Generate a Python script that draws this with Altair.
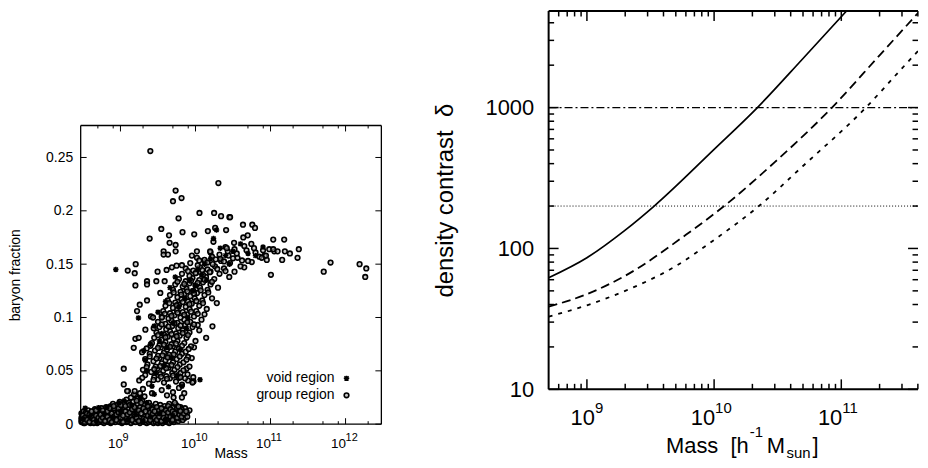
import altair as alt
import pandas as pd

FONT = "Liberation Sans"
NB = "\u00a0"

# ---------------- Left panel data: (log10 Mass, baryon fraction) ----------------
group_low = {
    8.48: [0.002, 0.006, 0.010, 0.004], 8.51: [0.001, 0.008, 0.012, 0.005],
    8.54: [0.003, 0.009, 0.006, 0.011], 8.57: [0.002, 0.007, 0.013, 0.004],
    8.60: [0.005, 0.010, 0.001, 0.008], 8.63: [0.003, 0.012, 0.007, 0.009],
    8.66: [0.002, 0.006, 0.011, 0.014], 8.69: [0.004, 0.009, 0.001, 0.012],
    8.72: [0.003, 0.007, 0.013, 0.010], 8.75: [0.005, 0.002, 0.011, 0.015],
    8.78: [0.004, 0.008, 0.012, 0.001], 8.81: [0.006, 0.003, 0.010, 0.016],
    8.84: [0.002, 0.009, 0.013, 0.007], 8.87: [0.005, 0.011, 0.001, 0.017],
    8.90: [0.003, 0.008, 0.014, 0.019], 8.93: [0.006, 0.002, 0.012, 0.016],
    8.96: [0.004, 0.010, 0.018, 0.007], 8.99: [0.002, 0.013, 0.008, 0.021],
    9.02: [0.005, 0.011, 0.016, 0.001], 9.05: [0.003, 0.009, 0.019, 0.014],
    9.08: [0.006, 0.012, 0.002, 0.023], 9.11: [0.004, 0.015, 0.009, 0.020],
    9.14: [0.001, 0.007, 0.017, 0.025], 9.17: [0.005, 0.012, 0.021, 0.003],
    9.20: [0.008, 0.014, 0.002, 0.027], 9.23: [0.004, 0.011, 0.019, 0.024],
    9.26: [0.006, 0.001, 0.016, 0.029], 9.29: [0.003, 0.013, 0.009, 0.022],
    9.32: [0.007, 0.018, 0.002, 0.026], 9.35: [0.005, 0.011, 0.015, 0.001],
    9.38: [0.002, 0.009, 0.020, 0.013], 9.41: [0.006, 0.003, 0.017, 0.012],
    9.44: [0.004, 0.010, 0.001, 0.016], 9.47: [0.007, 0.002, 0.013, 0.019],
    9.50: [0.003, 0.009, 0.015, 0.001], 9.53: [0.005, 0.011, 0.002, 0.018],
    9.56: [0.001, 0.008, 0.014, 0.004], 9.59: [0.006, 0.012, 0.003, 0.017],
    9.62: [0.002, 0.009, 0.015, 0.007], 9.65: [0.004, 0.011, 0.001, 0.019],
    9.68: [0.006, 0.013, 0.003, 0.010], 9.71: [0.002, 0.008, 0.016, 0.005],
    9.74: [0.004, 0.012, 0.009, 0.018], 9.77: [0.007, 0.003, 0.014, 0.011],
    9.80: [0.005, 0.010, 0.016], 9.83: [0.004, 0.012, 0.008],
    9.86: [0.009, 0.015, 0.006], 9.89: [0.011, 0.007], 9.92: [0.013],
}

group_low2 = {
    8.495: [0.003, 0.008], 8.525: [0.006, 0.001], 8.555: [0.010, 0.004], 8.585: [0.002, 0.009],
    8.615: [0.007, 0.012], 8.645: [0.004, 0.001], 8.675: [0.008, 0.013], 8.705: [0.002, 0.006],
    8.735: [0.009, 0.004], 8.765: [0.006, 0.013], 8.795: [0.003, 0.009], 8.825: [0.007, 0.012],
    8.855: [0.004, 0.015], 8.885: [0.002, 0.010], 8.915: [0.007, 0.015], 8.945: [0.004, 0.009],
    8.975: [0.011, 0.015], 9.005: [0.006, 0.018], 9.035: [0.008, 0.002], 9.065: [0.012, 0.017],
    9.095: [0.003, 0.009], 9.125: [0.011, 0.018], 9.155: [0.004, 0.014], 9.185: [0.009, 0.016],
    9.215: [0.006, 0.022], 9.245: [0.003, 0.013], 9.275: [0.010, 0.020], 9.305: [0.005, 0.015],
    9.335: [0.012, 0.004], 9.365: [0.008, 0.017], 9.395: [0.004, 0.011], 9.425: [0.009, 0.014],
    9.455: [0.006, 0.012], 9.485: [0.004, 0.016], 9.515: [0.007, 0.013], 9.545: [0.003, 0.015],
    9.575: [0.010, 0.006], 9.605: [0.004, 0.013], 9.635: [0.011, 0.017], 9.665: [0.007, 0.014],
    9.695: [0.004, 0.012], 9.725: [0.010, 0.020], 9.755: [0.006, 0.015], 9.785: [0.009, 0.013],
    9.815: [0.007, 0.014], 9.845: [0.010], 9.875: [0.012],
}

group_band = [
    (9.10, .031), (9.18, .028), (9.30, .033), (9.42, .029), (9.55, .032), (9.62, .027), (9.70, .030), (9.78, .034), (9.85, .029),
    (9.25, .041), (9.38, .038), (9.50, .042), (9.58, .039), (9.66, .043), (9.74, .040), (9.82, .037), (9.90, .041), (9.97, .044),
    (9.33, .046), (9.45, .044), (9.53, .047), (9.61, .045), (9.69, .048), (9.77, .046), (9.86, .043),
    (9.30, .051), (9.41, .049), (9.49, .052), (9.57, .050), (9.64, .053), (9.72, .051), (9.80, .048), (9.88, .052),
    (9.36, .056), (9.47, .054), (9.55, .057), (9.63, .055), (9.70, .058), (9.79, .056), (9.92, .054),
    (9.33, .061), (9.44, .059), (9.52, .062), (9.60, .060), (9.67, .063), (9.75, .061), (9.84, .058), (9.95, .062),
    (9.39, .066), (9.50, .064), (9.58, .067), (9.65, .065), (9.73, .068), (9.82, .066), (9.90, .063),
    (9.35, .071), (9.46, .069), (9.54, .072), (9.62, .070), (9.70, .073), (9.78, .071), (9.87, .068), (9.98, .072),
    (9.42, .076), (9.52, .074), (9.60, .077), (9.68, .075), (9.76, .078), (9.85, .076), (9.94, .073),
    (9.45, .081), (9.55, .079), (9.63, .082), (9.71, .080), (9.79, .083), (9.88, .081), (10.00, .078),
    (9.48, .086), (9.58, .084), (9.66, .087), (9.74, .085), (9.83, .088), (9.92, .086),
    (9.52, .091), (9.61, .089), (9.69, .092), (9.77, .090), (9.86, .093), (9.96, .091), (10.05, .088),
    (9.50, .096), (9.60, .094), (9.68, .097), (9.76, .095), (9.85, .098), (9.93, .096), (10.03, .093),
    (9.55, .101), (9.64, .099), (9.72, .102), (9.80, .100), (9.89, .103), (9.98, .101), (10.08, .098),
    (9.57, .106), (9.66, .104), (9.75, .107), (9.83, .105), (9.92, .108), (10.01, .106), (10.12, .103),
    (9.60, .111), (9.70, .109), (9.78, .112), (9.87, .110), (9.95, .113), (10.05, .111), (10.15, .108),
    (9.63, .116), (9.73, .114), (9.81, .117), (9.90, .115), (9.99, .118), (10.09, .116),
    (9.66, .121), (9.76, .119), (9.85, .122), (9.93, .120), (10.02, .123), (10.12, .121), (10.22, .118),
    (9.70, .126), (9.80, .124), (9.88, .127), (9.97, .125), (10.06, .128), (10.16, .126),
    (9.73, .131), (9.83, .129), (9.92, .132), (10.00, .130), (10.10, .133), (10.20, .131), (10.30, .128),
    (9.78, .136), (9.87, .134), (9.96, .137), (10.05, .135), (10.14, .138), (10.25, .136),
    (9.82, .141), (9.92, .139), (10.01, .142), (10.10, .140), (10.20, .143), (10.32, .141), (10.45, .138),
    (9.87, .146), (9.97, .144), (10.06, .147), (10.16, .145), (10.26, .148), (10.38, .146), (10.52, .143), (10.65, .147),
    (9.93, .151), (10.03, .149), (10.13, .152), (10.23, .150), (10.34, .153), (10.46, .151), (10.60, .148), (10.75, .152),
    (10.02, .156), (10.12, .154), (10.22, .157), (10.33, .155), (10.44, .158), (10.56, .156), (10.70, .153), (10.85, .157), (10.95, .154),
    (10.20, .161), (10.32, .159), (10.43, .162), (10.55, .160), (10.68, .163), (10.80, .161), (10.92, .158), (11.05, .162),
    (10.40, .166), (10.52, .164), (10.65, .167), (10.78, .165), (10.90, .163),
]

group_core = [
    (9.29, .0435), (9.44, .0415), (9.54, .0445), (9.62, .0425), (9.70, .0455), (9.78, .0435),
    (9.35, .0535), (9.45, .0515), (9.53, .0545), (9.61, .0525), (9.68, .0555), (9.76, .0535), (9.84, .0505),
    (9.39, .0635), (9.48, .0615), (9.56, .0645), (9.63, .0625), (9.71, .0655), (9.79, .0635), (9.88, .0605),
    (9.40, .0735), (9.50, .0715), (9.58, .0745), (9.66, .0725), (9.74, .0755), (9.82, .0735), (9.91, .0705),
    (9.50, .0835), (9.60, .0815), (9.68, .0845), (9.75, .0825), (9.83, .0855), (9.90, .0835),
    (9.55, .0935), (9.64, .0915), (9.72, .0945), (9.80, .0925), (9.89, .0955), (9.98, .0935),
    (9.59, .1035), (9.68, .1015), (9.76, .1045), (9.85, .1025), (9.94, .1055), (10.03, .1035),
    (9.65, .1135), (9.75, .1115), (9.83, .1145), (9.92, .1125), (10.01, .1155), (10.10, .1135),
    (9.71, .1235), (9.81, .1215), (9.89, .1245), (9.98, .1225), (10.07, .1255), (10.17, .1235),
    (9.76, .1335), (9.85, .1315), (9.94, .1345), (10.03, .1325), (10.12, .1355), (10.22, .1335),
    (9.90, .1435), (10.00, .1415), (10.09, .1445), (10.19, .1425), (10.29, .1455), (10.40, .1435),
    (10.05, .1535), (10.16, .1515), (10.27, .1545), (10.38, .1525), (10.50, .1555), (10.62, .1535),
]

group_outliers = [
    (9.398, .256), (10.305, .226), (9.735, .219), (9.814, .212), (9.700, .209), (10.053, .198),
    (10.248, .198), (10.341, .195), (10.452, .194), (9.774, .193), (9.544, .183), (9.647, .177),
    (9.827, .180), (9.983, .178), (10.165, .181), (10.262, .184), (10.408, .182), (9.389, .174),
    (9.655, .170), (9.735, .168), (9.735, .162), (10.239, .171), (9.575, .162), (9.575, .159),
    (9.633, .159), (9.952, .158), (10.019, .162), (9.203, .150), (9.097, .144), (9.190, .1415),
    (9.495, .143), (9.615, .1446), (9.686, .147), (9.748, .1486), (9.819, .149), (10.195, .162),
    (10.417, .165), (10.461, .194), (10.633, .187), (10.757, .187), (10.793, .184), (10.696, .177),
    (10.637, .175), (11.036, .173), (11.182, .173), (10.514, .170), (10.744, .169), (10.983, .164),
    (11.036, .164), (11.094, .162), (11.191, .162), (11.258, .160), (11.377, .164), (11.360, .156),
    (11.155, .154), (10.939, .158), (10.882, .156), (11.800, .1515), (12.187, .150), (12.276, .146),
    (11.709, .143), (11.005, .140), (12.262, .138),
    (9.199, .130), (9.354, .134), (9.354, .131), (9.478, .134), (9.589, .134), (9.531, .123),
    (9.257, .112), (9.354, .116), (9.221, .106), (9.407, .101), (9.434, .100), (9.553, .100),
    (9.332, .0886), (9.443, .090), (9.199, .080), (9.243, .081), (9.177, .0716), (9.288, .0675),
    (9.044, .052), (10.284, .1135), (10.226, .0917), (10.142, .081), (9.973, .040), (9.894, .0467),
    (9.044, .0373), (9.089, .031), (9.190, .031), (8.911, .017), (9.797, .0124), (9.774, .0165),
    (9.708, .025), (9.819, .025), (9.960, .039), (9.800, .044),
]

void_pts = [
    (8.938, .145), (9.24, .0996), (9.50, .105), (9.31, .069), (9.33, .060), (9.42, .0355),
    (10.06, .0417), (9.82, .0355), (9.55, .085), (9.62, .072), (9.70, .095), (9.78, .110),
    (9.66, .128), (9.86, .118), (9.92, .135), (10.03, .145), (10.12, .150), (10.20, .155),
    (10.28, .182), (10.24, .174), (10.60, .169), (10.90, .166), (10.40, .158), (10.50, .162),
    (10.70, .160), (10.33, .165), (9.58, .055), (9.47, .048), (9.68, .062), (9.75, .045),
    (9.52, .078), (9.88, .090), (9.96, .125), (10.08, .140), (9.73, .138), (9.60, .115),
    (9.45, .092), (9.40, .075), (9.35, .050), (9.64, .035), (9.80, .070), (9.90, .100),
    (10.00, .130), (10.15, .135), (10.45, .150), (10.80, .158),
    (8.53, .015), (8.71, .0155), (8.82, .016), (8.50, .005), (8.60, .008), (8.68, .003),
    (8.78, .010), (8.90, .006), (9.00, .012), (9.10, .004), (9.20, .009), (9.30, .003),
    (9.40, .007), (9.52, .010), (9.60, .004), (9.70, .008), (9.05, .022), (9.15, .018),
    (9.27, .025), (8.98, .020), (9.35, .020), (9.45, .028),
]

legend_labels = ["void region", "group region"]
left_x_major = [1e9, 1e10, 1e11, 1e12]
left_x_minor = [5e8, 8e8, 2e9, 5e9, 8e9, 2e10, 5e10, 8e10, 2e11, 5e11, 8e11, 2e12]
left_y_ticks = [0, 0.05, 0.1, 0.15, 0.2, 0.25]
left_exponents = ["9", "10", "11", "12"]

# ---------------- Right panel data ----------------
mass_solid = [5e8, 1e9, 2e9, 3.38e9, 1e10, 2.19e10, 5e10, 1.10e11]
delta_solid = [62, 86, 135, 200, 505, 1000, 2230, 4850]
mass_dashed = [5e8, 1e9, 2e9, 6e9, 1.2e10, 3e10, 8.45e10, 2e11, 4.01e11]
delta_dashed = [38.6, 47.4, 64, 125, 200, 410, 1000, 2350, 4690]
mass_dotted = [5e8, 1e9, 2e9, 5e9, 1e10, 2.25e10, 5e10, 1.56e11, 3e11, 4.01e11]
delta_dotted = [32.8, 39.5, 50, 75, 115, 200, 385, 1000, 1900, 2520]
hline_dashdot = [1000]
hline_dotted = [200]
right_x_major = [1e9, 1e10, 1e11]
right_exponents = ["9", "10", "11"]
right_y_major = [10, 100, 1000]
XMAX_R = 4.01e11
YMAX_R = 4850
right_x_minor = [k * 10.0 ** e for e in (8, 9, 10, 11) for k in range(2, 10)
                 if 5e8 < k * 10.0 ** e < XMAX_R]
right_y_minor = [k * 10.0 ** e for e in (1, 2, 3) for k in range(2, 10) if k * 10.0 ** e < YMAX_R]

# ---------------- build tables ----------------
rows = ([(lm, b) for lm, bs in group_low.items() for b in bs]
        + [(lm, b) for lm, bs in group_low2.items() for b in bs]
        + group_band + group_core + group_outliers)
gdf = pd.DataFrame(rows, columns=["logm", "bf"])
gdf["mass"] = 10 ** gdf["logm"]
vdf = pd.DataFrame(void_pts, columns=["logm", "bf"])
vdf["mass"] = 10 ** vdf["logm"]
one = pd.DataFrame({"a": [0]})

# ================= LEFT PANEL =================
LW, LH = 302, 300
xs_l = alt.Scale(type="log", domain=[2.95e8, 3e12], nice=False)
ys_l = alt.Scale(domain=[0, 0.28], nice=False, zero=False)
yax_l = alt.Axis(values=left_y_ticks, format="~g", labelFontSize=14, labelPadding=8,
                 title="baryon fraction", titleFontSize=14, titlePadding=23,
                 labelOverlap=False)

CIRC = dict(size=22, color="#a8a8a8", fillOpacity=0.6, stroke="black",
            strokeWidth=1.6, strokeOpacity=1)
g_layer = alt.Chart(gdf).mark_circle(**CIRC).encode(
    x=alt.X("mass:Q", scale=xs_l, axis=None),
    y=alt.Y("bf:Q", scale=ys_l, axis=yax_l))

STAR = "M-1,0L1,0M0,-1L0,1M-0.75,-0.75L0.75,0.75M-0.75,0.75L0.75,-0.75"
STARKW = dict(shape=STAR, filled=False, color="black", strokeWidth=1.5, size=30, opacity=1)
v_layer = alt.Chart(vdf).mark_point(**STARKW).encode(
    x=alt.X("mass:Q", scale=xs_l, axis=None),
    y=alt.Y("bf:Q", scale=ys_l, axis=yax_l))


def hrule(x1, x2, y, sw):
    return alt.Chart(one).mark_rule(color="black", strokeWidth=sw).encode(
        x=alt.value(x1), x2=alt.value(x2), y=alt.value(y))


def vrule(x, y1, y2, sw):
    return alt.Chart(one).mark_rule(color="black", strokeWidth=sw).encode(
        x=alt.value(x), y=alt.value(y1), y2=alt.value(y2))


def xticks(vals, scale, H, L, sw):
    d = pd.DataFrame({"t": vals})
    bot = alt.Chart(d).mark_rule(color="black", strokeWidth=sw).encode(
        x=alt.X("t:Q", scale=scale, axis=None), y=alt.value(H), y2=alt.value(H - L))
    top = alt.Chart(d).mark_rule(color="black", strokeWidth=sw).encode(
        x=alt.X("t:Q", scale=scale, axis=None), y=alt.value(0), y2=alt.value(L))
    return [bot, top]


def yticks(vals, scale, ax, W, L, sw):
    d = pd.DataFrame({"t": vals})
    lft = alt.Chart(d).mark_rule(color="black", strokeWidth=sw).encode(
        y=alt.Y("t:Q", scale=scale, axis=ax), x=alt.value(0), x2=alt.value(L))
    rgt = alt.Chart(d).mark_rule(color="black", strokeWidth=sw).encode(
        y=alt.Y("t:Q", scale=scale, axis=ax), x=alt.value(W), x2=alt.value(W - L))
    return [lft, rgt]


def xlabels(ticks, exps, scale, yb, ye, fb, fe, dxb, dxe):
    d = pd.DataFrame({"t": ticks, "e": exps})
    base = alt.Chart(d).mark_text(text="10", align="right", baseline="middle", dx=dxb,
                                  fontSize=fb, font=FONT, color="black").encode(
        x=alt.X("t:Q", scale=scale, axis=None), y=alt.value(yb))
    ex = alt.Chart(d).mark_text(align="left", baseline="middle", dx=dxe,
                                fontSize=fe, font=FONT, color="black").encode(
        x=alt.X("t:Q", scale=scale, axis=None), y=alt.value(ye), text="e:N")
    return [base, ex]


def label(txt, x, y, size, align="left"):
    return alt.Chart(pd.DataFrame({"s": [txt]})).mark_text(
        align=align, baseline="middle", fontSize=size, font=FONT, color="black").encode(
        text="s:N", x=alt.value(x), y=alt.value(y))


left_layers = [g_layer, v_layer]
left_layers += [hrule(0, LW, 0, 1.3), hrule(0, LW, LH, 1.3), vrule(0, 0, LH, 1.3), vrule(LW, 0, LH, 1.3)]
left_layers += xticks(left_x_major, xs_l, LH, 6, 1) + xticks(left_x_minor, xs_l, LH, 3, 1)
left_layers += yticks(left_y_ticks, ys_l, yax_l, LW, 6, 1)
left_layers += xlabels(left_x_major[:1], left_exponents[:1], xs_l, 320, 313.5, 13.5, 11, 2.5, 2)
left_layers += xlabels(left_x_major[1:], left_exponents[1:], xs_l, 320, 313.5, 13.5, 11, 0.5, 0)
left_layers += [label("Mass", 151, 329.5, 14, "center")]
# legend (text right-aligned, symbol to its right)
left_layers += [label(legend_labels[0], 255, 254, 14, "right"), label(legend_labels[1], 255, 271, 14, "right")]
left_layers += [
    alt.Chart(one).mark_point(**STARKW).encode(x=alt.value(267), y=alt.value(254)),
    alt.Chart(one).mark_circle(**CIRC).encode(x=alt.value(267), y=alt.value(271)),
]
left = alt.layer(*left_layers).properties(width=LW, height=LH)

spacer = alt.Chart(one).mark_point(opacity=0, size=1).encode(
    x=alt.value(150), y=alt.value(50)).properties(width=LW, height=102)
left_col = alt.vconcat(spacer, left, spacing=10)

# ================= RIGHT PANEL =================
RW, RH = 371, 380
xs_r = alt.Scale(type="log", domain=[5e8, XMAX_R], nice=False)
ys_r = alt.Scale(type="log", domain=[10, YMAX_R], nice=False)
yax_r = alt.Axis(values=right_y_major, format="d", labelFontSize=22, labelPadding=15,
                 title="density" + NB + "contrast" + NB + NB + "δ", titleFontSize=24,
                 titlePadding=28, labelOverlap=False)


def curve(ms, ds, dash, sw):
    d = pd.DataFrame({"m": ms, "d": ds})
    kw = dict(color="black", strokeWidth=sw, clip=True, interpolate="monotone")
    if dash:
        kw["strokeDash"] = dash
    return alt.Chart(d).mark_line(**kw).encode(
        x=alt.X("m:Q", scale=xs_r, axis=None),
        y=alt.Y("d:Q", scale=ys_r, axis=yax_r))


def hline(vals, dash, sw):
    d = pd.DataFrame({"v": vals})
    return alt.Chart(d).mark_rule(color="black", strokeWidth=sw, strokeDash=dash).encode(
        y=alt.Y("v:Q", scale=ys_r, axis=yax_r), x=alt.value(0), x2=alt.value(RW))


right_layers = [
    hline(hline_dashdot, [8, 3, 2, 3], 1.1),
    hline(hline_dotted, [1, 2], 1),
    curve(mass_solid, delta_solid, None, 1.7),
    curve(mass_dashed, delta_dashed, [9, 5], 1.8),
    curve(mass_dotted, delta_dotted, [4, 6], 1.8),
]
right_layers += [hrule(0, RW, 0, 2), hrule(0, RW, RH, 2), vrule(0, 0, RH, 2)]
right_layers += xticks(right_x_major, xs_r, RH, 10, 1.5) + xticks(right_x_minor, xs_r, RH, 5.5, 1.5)
right_layers += yticks(right_y_major, ys_r, yax_r, RW, 10, 1.5) + yticks(right_y_minor, ys_r, yax_r, RW, 5.5, 1.5)
right_layers += xlabels(right_x_major[:1], right_exponents[:1], xs_r, 409, 398.5, 22, 15, 8, 8)
right_layers += xlabels(right_x_major[1:], right_exponents[1:], xs_r, 409, 398.5, 22, 15, 1, 1)
right_layers += [
    label("Mass" + NB + NB + "[h", 201, 437, 22, "right"),
    label("-1", 202, 423, 15),
    label("M", 219, 437, 22),
    label("sun", 239, 443.5, 15),
    label("]", 265, 437, 22),
]
right = alt.layer(*right_layers).properties(width=RW, height=RH)

chart = alt.hconcat(left_col, right, spacing=49).properties(
    padding=0, background="white"
).configure_view(stroke="transparent").configure_axis(
    labelFont=FONT, titleFont=FONT, labelColor="black", titleColor="black",
    titleFontWeight="normal", grid=False, ticks=False, domain=False)

chart.save("out.html", embed_options={"renderer": "svg", "actions": False})
